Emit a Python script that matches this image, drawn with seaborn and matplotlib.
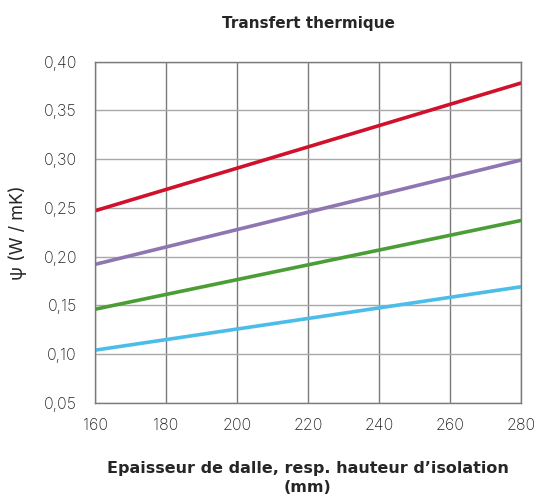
import pandas as pd
import seaborn as sns
import matplotlib.pyplot as plt
from matplotlib.ticker import FuncFormatter

# Data
thickness = [160, 280]
psi_red = [0.247, 0.378]
psi_purple = [0.192, 0.299]
psi_green = [0.146, 0.237]
psi_blue = [0.104, 0.169]

series_names = ["red", "purple", "green", "blue"]
series_values = [psi_red, psi_purple, psi_green, psi_blue]
palette = {"red": "#d0112b", "purple": "#8e76b0", "green": "#4a9e35", "blue": "#4cbde9"}

rows = []
for name, vals in zip(series_names, series_values):
    for x, y in zip(thickness, vals):
        rows.append({"x": x, "psi": y, "series": name})
df = pd.DataFrame(rows)

sns.set_theme(style="white")
plt.rcParams["font.family"] = ["Inter", "DejaVu Sans"]

fig, ax = plt.subplots(figsize=(5.37, 5.01), dpi=100)
fig.subplots_adjust(left=0.177, right=0.970, top=0.877, bottom=0.196)

sns.lineplot(data=df, x="x", y="psi", hue="series", palette=palette,
             linewidth=2.6, legend=False, ax=ax)

ax.set_xlim(160, 280)
ax.set_ylim(0.05, 0.40)
ax.set_xticks(range(160, 281, 20))
ax.set_yticks([0.05, 0.10, 0.15, 0.20, 0.25, 0.30, 0.35, 0.40])
ax.yaxis.set_major_formatter(FuncFormatter(lambda v, p: f"{v:.2f}".replace(".", ",")))

ax.grid(True, axis="x", color="#7a7a7a", linewidth=1.0)
ax.grid(True, axis="y", color="#a8a8a8", linewidth=1.0)
ax.set_axisbelow(True)
for s in ax.spines.values():
    s.set_color("#7a7a7a")
    s.set_linewidth(1.0)

ax.tick_params(axis="both", labelsize=11.5, colors="#222222", length=0)
ax.tick_params(axis="x", pad=11)
ax.tick_params(axis="y", pad=13)
for lbl in ax.get_xticklabels() + ax.get_yticklabels():
    lbl.set_fontweight("light")

bold = ["DejaVu Sans"]
ax.set_xlabel("Epaisseur de dalle, resp. hauteur d\u2019isolation\n(mm)",
              fontsize=11.5, fontweight="bold", family=bold, labelpad=20,
              linespacing=1.35)
ax.set_ylabel("\u03c8 (W / mK)", fontsize=13, labelpad=12)
ax.set_title("Transfert thermique", fontsize=11, fontweight="bold",
             family=bold, pad=24)

plt.savefig("out.png", dpi=100)
